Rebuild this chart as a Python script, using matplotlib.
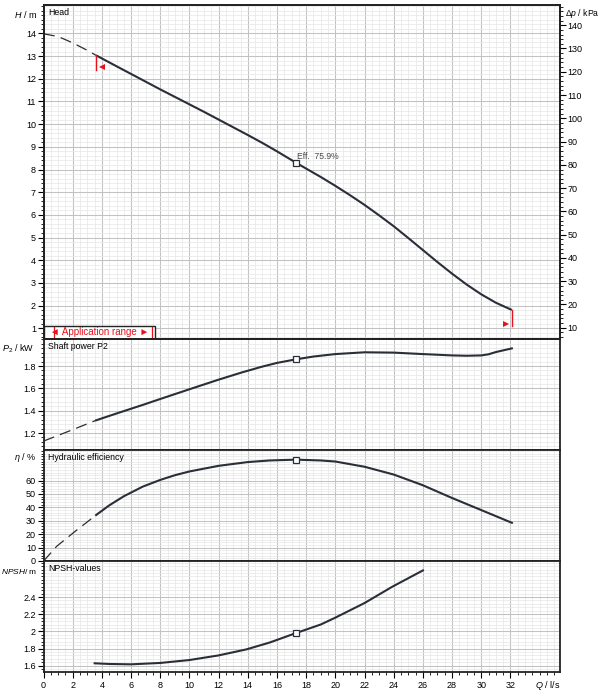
import matplotlib
matplotlib.use("Agg")
import matplotlib.pyplot as plt
from matplotlib.ticker import MultipleLocator, FixedLocator
from matplotlib.patches import Rectangle

plt.rcParams["font.family"] = ["Liberation Sans", "DejaVu Sans"]
plt.rcParams["mathtext.fontset"] = "custom"
plt.rcParams["mathtext.rm"] = "Liberation Sans"
plt.rcParams["mathtext.it"] = "Liberation Sans:italic"

# duty point (best efficiency)
q_duty = 17.3
eff_label = "Eff.  75.9%"

# head curve (Q in l/s, H in m)
q_head_dash = [0, 1, 2, 3, 3.6]
h_head_dash = [13.98, 13.86, 13.58, 13.25, 13.03]
q_head = [3.6, 5, 6, 7, 8, 9, 10, 11, 12, 13, 14, 15, 16, 17.3,
          18, 19, 20, 21, 22, 23, 24, 25, 26, 27, 28, 29, 30, 31, 32.1]
h_head = [13.03, 12.55, 12.21, 11.87, 11.53, 11.2, 10.87, 10.54, 10.2, 9.86,
          9.52, 9.17, 8.8, 8.3, 8.04, 7.67, 7.28, 6.87, 6.44, 5.98, 5.5,
          4.98, 4.45, 3.92, 3.41, 2.93, 2.5, 2.13, 1.81]
h_duty = 8.3

# shaft power P2 (kW)
q_pow_dash = [0, 1.8, 3.6]
p_pow_dash = [1.128, 1.22, 1.314]
q_pow = [3.6, 5, 6.8, 8, 10, 12, 13.65, 15, 16, 17.3, 18.5, 20, 22, 24,
         26, 28, 29, 30, 30.5, 31, 32.1]
p_pow = [1.314, 1.375, 1.452, 1.505, 1.592, 1.678, 1.745, 1.795, 1.828, 1.86,
         1.885, 1.907, 1.923, 1.92, 1.907, 1.895, 1.892, 1.895, 1.905, 1.925, 1.958]
p_duty = 1.86

# hydraulic efficiency (%)
q_eff_dash = [0, 0.9, 2.15, 3.6]
e_eff_dash = [0, 11, 22, 34.3]
q_eff = [3.6, 4.5, 5.5, 6.8, 8, 9, 10, 12, 14, 15.5, 17.3, 19, 20, 22,
         24, 26, 28, 30, 32.1]
e_eff = [34.3, 41.5, 48.3, 55.5, 60.5, 64, 66.8, 71, 73.8, 75, 75.6, 75, 74.2,
         70.3, 64.5, 56.5, 47, 38, 28.5]
e_duty = 75.6

# NPSH (m)
q_npsh = [3.5, 4.5, 6, 8, 10, 12, 13.9, 15.5, 17.3, 19, 20, 22, 23.9, 26]
n_npsh = [1.628, 1.62, 1.616, 1.632, 1.666, 1.72, 1.79, 1.87, 1.98, 2.08,
          2.16, 2.33, 2.52, 2.71]
n_duty = 1.98

# axis ticks
q_ticks = list(range(0, 33, 2))
h_ticks = list(range(1, 15))
kpa_ticks = list(range(10, 141, 10))
p_ticks = [1.2, 1.4, 1.6, 1.8]
e_ticks = [0, 10, 20, 30, 40, 50, 60]
n_ticks = [1.6, 1.8, 2.0, 2.2, 2.4]
kpa_per_m = 9.75

line_col = "#2a2e38"
red = "#e8101a"
fs = 6.5

fig = plt.figure(figsize=(6, 7), dpi=100)
left, width = 43.6 / 600, (560 - 43.6) / 600


def panel(top_px, bot_px):
    return fig.add_axes([left, 1 - bot_px / 700, width, (bot_px - top_px) / 700])


ax_h = panel(5, 339)
ax_p = panel(339, 450)
ax_e = panel(450, 561)
ax_n = panel(561, 672.3)
axes = [ax_h, ax_p, ax_e, ax_n]

for ax in axes:
    ax.set_xlim(0, 35.4)
    ax.xaxis.set_major_locator(FixedLocator(q_ticks))
    ax.xaxis.set_minor_locator(MultipleLocator(0.5))
    ax.grid(which="major", color="#c2c2c2", lw=0.75)
    ax.grid(which="minor", color="#e6e6e6", lw=0.5)
    ax.set_axisbelow(True)
    for s in ax.spines.values():
        s.set_linewidth(1.3)
        s.set_color("#222222")
    ax.tick_params(axis="y", which="major", direction="out", length=4,
                   width=0.8, labelsize=fs, pad=1.5)
    ax.tick_params(axis="y", which="minor", direction="out", length=2.5, width=0.6)
    ax.tick_params(axis="x", which="both", bottom=False, labelbottom=False)

ax_n.tick_params(axis="x", which="major", bottom=True, labelbottom=True,
                 direction="out", length=4, width=0.8, labelsize=fs, pad=2)
ax_n.tick_params(axis="x", which="minor", bottom=True, direction="out",
                 length=2.5, width=0.6)

# head panel
ax_h.set_ylim(0.53, 15.25)
ax_h.set_yticks(h_ticks)
ax_h.yaxis.set_minor_locator(MultipleLocator(0.2))
ax_h.plot(q_head_dash, h_head_dash, color=line_col, lw=0.9, dashes=(9, 5))
ax_h.plot(q_head, h_head, color=line_col, lw=1.5, solid_capstyle="butt")
ax_h.plot([q_duty], [h_duty], "s", ms=4, mfc="white", mec=line_col, mew=0.9)
ax_h.text(q_duty + 0.05, h_duty + 0.28, eff_label, fontsize=6.2, color="#4a4a4a",
          va="center", ha="left")

# application limits
ax_h.plot([q_head[0], q_head[0]], [h_head[0], h_head[0] - 0.65], color=red, lw=1.0)
ax_h.plot([q_head[0] + 0.38], [h_head[0] - 0.5], marker="<", ms=5, color=red, mew=0)
ax_h.plot([q_head[-1], q_head[-1]], [h_head[-1], h_head[-1] - 0.7], color=red, lw=1.0)
ax_h.plot([q_head[-1] - 0.38], [h_head[-1] - 0.6], marker=">", ms=5, color=red, mew=0)

ax_h.add_patch(Rectangle((0, 0), 0.2157, 0.039, transform=ax_h.transAxes,
                         facecolor="white", edgecolor="#222222", lw=1.0, zorder=5))
ax_h.text(0.108, 0.0195, "\u25c4 Application range \u25ba", transform=ax_h.transAxes,
          color=red, fontsize=7, ha="center", va="center", zorder=6)
for xa in (0.0199, 0.2097):
    ax_h.plot([xa, xa], [0.004, 0.035], transform=ax_h.transAxes, color=red,
              lw=0.9, zorder=6)
ax_h.text(0.009, 0.992, "Head", transform=ax_h.transAxes, fontsize=6.3,
          va="top", ha="left")

ax_k = ax_h.twinx()
ax_k.set_ylim(0.53 * kpa_per_m, 15.25 * kpa_per_m)
ax_k.set_yticks(kpa_ticks)
ax_k.yaxis.set_minor_locator(MultipleLocator(2))
ax_k.tick_params(axis="y", which="major", direction="out", length=4, width=0.8,
                 labelsize=fs, pad=1.5)
ax_k.tick_params(axis="y", which="minor", direction="out", length=2.5, width=0.6)
for s in ax_k.spines.values():
    s.set_linewidth(1.3)
    s.set_color("#222222")

# power panel
ax_p.set_ylim(1.048, 2.042)
ax_p.set_yticks(p_ticks)
ax_p.yaxis.set_minor_locator(MultipleLocator(0.04))
ax_p.plot(q_pow_dash, p_pow_dash, color=line_col, lw=0.9, dashes=(9, 5))
ax_p.plot(q_pow, p_pow, color=line_col, lw=1.5)
ax_p.plot([q_duty], [p_duty], "s", ms=4, mfc="white", mec=line_col, mew=0.9)
ax_p.text(0.009, 0.975, "Shaft power P2", transform=ax_p.transAxes, fontsize=6.3,
          va="top", ha="left")

# efficiency panel
ax_e.set_ylim(0, 82.8)
ax_e.set_yticks(e_ticks)
ax_e.yaxis.set_minor_locator(MultipleLocator(2))
ax_e.plot(q_eff_dash, e_eff_dash, color=line_col, lw=0.9, dashes=(9, 5))
ax_e.plot(q_eff, e_eff, color=line_col, lw=1.5)
ax_e.plot([q_duty], [e_duty], "s", ms=4, mfc="white", mec=line_col, mew=0.9)
ax_e.text(0.009, 0.975, "Hydraulic efficiency", transform=ax_e.transAxes,
          fontsize=6.3, va="top", ha="left")

# NPSH panel
ax_n.set_ylim(1.523, 2.82)
ax_n.set_yticks(n_ticks)
ax_n.set_yticklabels(["1.6", "1.8", "2", "2.2", "2.4"])
ax_n.yaxis.set_minor_locator(MultipleLocator(0.04))
ax_n.plot(q_npsh, n_npsh, color=line_col, lw=1.5)
ax_n.plot([q_duty], [n_duty], "s", ms=4, mfc="white", mec=line_col, mew=0.9)
ax_n.text(0.009, 0.975, "NPSH-values", transform=ax_n.transAxes, fontsize=6.3,
          va="top", ha="left")

# axis labels
fig.text(25 / 600, 1 - 14 / 700, r"$H$ / m", fontsize=fs, ha="center", va="center")
fig.text(565 / 600, 1 - 14 / 700, r"$\Delta p$ / kPa", fontsize=6.2, ha="left",
         va="center")
fig.text(18 / 600, 1 - 349 / 700, r"$P_2$ / kW", fontsize=fs, ha="center", va="center")
fig.text(25 / 600, 1 - 457 / 700, r"$\eta$ / %", fontsize=fs, ha="center", va="center")
fig.text(1 / 600, 1 - 571.5 / 700, r"$NPSH$/ m", fontsize=6.0, ha="left", va="center")
fig.text(548 / 600, 1 - 686 / 700, r"$Q$ / l/s", fontsize=fs, ha="center", va="center")

fig.savefig("out.png", dpi=100)
